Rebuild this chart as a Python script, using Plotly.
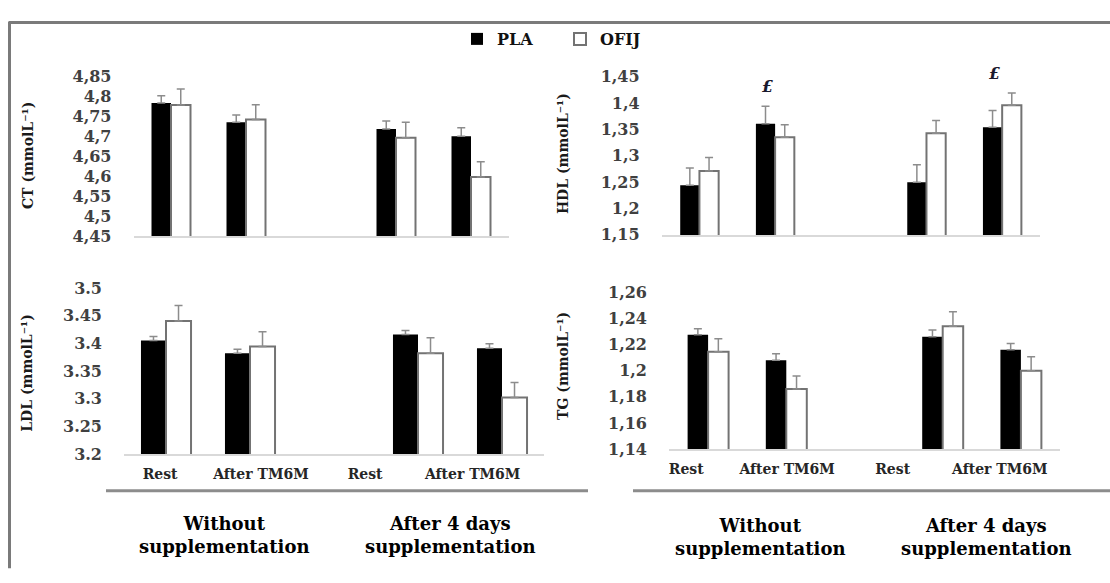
import plotly.graph_objects as go

# ---------------- data ----------------
series = ["PLA", "OFIJ"]
moments = ["Rest", "After TM6M"]
groups = ["Without<br>supplementation", "After 4 days<br>supplementation"]

ct_pla = [4.784, 4.736, 4.719, 4.701]
ct_pla_err = [0.018, 0.018, 0.020, 0.021]
ct_ofij = [4.779, 4.743, 4.697, 4.599]
ct_ofij_err = [0.040, 0.037, 0.039, 0.038]

hdl_pla = [1.244, 1.361, 1.250, 1.354]
hdl_pla_err = [0.033, 0.033, 0.033, 0.032]
hdl_ofij = [1.271, 1.335, 1.343, 1.396]
hdl_ofij_err = [0.026, 0.024, 0.024, 0.023]

ldl_pla = [3.405, 3.382, 3.416, 3.391]
ldl_pla_err = [0.007, 0.007, 0.007, 0.008]
ldl_ofij = [3.440, 3.394, 3.382, 3.302]
ldl_ofij_err = [0.028, 0.027, 0.028, 0.027]

tg_pla = [1.2275, 1.208, 1.226, 1.216]
tg_pla_err = [0.0045, 0.005, 0.005, 0.0047]
tg_ofij = [1.2145, 1.186, 1.234, 1.200]
tg_ofij_err = [0.0098, 0.010, 0.011, 0.0107]

ct_ticks = ["4,45", "4,5", "4,55", "4,6", "4,65", "4,7", "4,75", "4,8", "4,85"]
hdl_ticks = ["1,15", "1,2", "1,25", "1,3", "1,35", "1,4", "1,45"]
ldl_ticks = ["3.2", "3.25", "3.3", "3.35", "3.4", "3.45", "3.5"]
tg_ticks = ["1,14", "1,16", "1,18", "1,2", "1,22", "1,24", "1,26"]

significance_mark = "£"
hdl_marked = [1, 3]  # index of bar pair carrying the mark

# ---------------- layout helpers ----------------
W, H = 1110, 583
FONT = "DejaVu Serif"


def fx(p):
    return p / W


def fy(p):
    return 1 - p / H


def num(s):
    return float(s.replace(",", "."))


slots = [gi * 3 + mi for gi in range(len(groups)) for mi in range(len(moments))]

panels = [
    dict(name="CT", pla=ct_pla, pe=ct_pla_err, of=ct_ofij, oe=ct_ofij_err,
         ticks=ct_ticks, xd=(133.5, 508.5), yd=(70, 235), bw=0.26,
         labels=None, title=(28, 152)),
    dict(name="HDL", pla=hdl_pla, pe=hdl_pla_err, of=hdl_ofij, oe=hdl_ofij_err,
         ticks=hdl_ticks, xd=(661.6, 1040), yd=(70, 233.5), bw=0.254,
         labels=None, title=(563, 150)),
    dict(name="LDL", pla=ldl_pla, pe=ldl_pla_err, of=ldl_ofij, oe=ldl_ofij_err,
         ticks=ldl_ticks, xd=(124, 544), yd=(288.3, 460), bw=0.298,
         labels=[-0.07, 1.13, 2.37, 3.65], title=(27, 376)),
    dict(name="TG", pla=tg_pla, pe=tg_pla_err, of=tg_ofij, oe=tg_ofij_err,
         ticks=tg_ticks, xd=(669, 1060), yd=(292.7, 455), bw=0.262,
         labels=[-0.28, 1.01, 2.36, 3.73], title=(563, 369)),
]

fig = go.Figure()
layout_axes = {}
annotations = []

for i, p in enumerate(panels):
    k = "" if i == 0 else str(i + 1)
    xa, ya = "x" + k, "y" + k
    err_style = dict(type="data", symmetric=False, color="#8c8c8c",
                     thickness=1.5, width=4)
    fig.add_trace(go.Bar(
        x=slots, y=p["pla"], name=series[0], xaxis=xa, yaxis=ya,
        width=p["bw"], offset=-p["bw"],
        marker=dict(color="black", line=dict(color="black", width=0)),
        error_y=dict(array=p["pe"], arrayminus=[0] * len(p["pe"]), **err_style),
        showlegend=(i == 0), legendgroup=series[0],
    ))
    fig.add_trace(go.Bar(
        x=slots, y=p["of"], name=series[1], xaxis=xa, yaxis=ya,
        width=p["bw"], offset=0,
        marker=dict(color="white", line=dict(color="#737373", width=2)),
        error_y=dict(array=p["oe"], arrayminus=[0] * len(p["oe"]), **err_style),
        showlegend=(i == 0), legendgroup=series[1],
    ))
    tv = [num(t) for t in p["ticks"]]
    xaxis = dict(
        domain=[fx(p["xd"][0]), fx(p["xd"][1])], anchor=ya,
        range=[-0.5, 4.5], showgrid=False, zeroline=False,
        showline=True, linecolor="#d9d9d9", linewidth=2, ticks="",
        fixedrange=True,
    )
    if p["labels"] is None:
        xaxis["showticklabels"] = False
    else:
        xaxis.update(tickmode="array", tickvals=p["labels"],
                     ticktext=moments * len(groups),
                     tickfont=dict(family=FONT, size=14, color="#262626",
                                   weight="bold"),
                     ticklabelstandoff=6)
    yaxis = dict(
        domain=[fy(p["yd"][1]), fy(p["yd"][0])], anchor=xa,
        range=[tv[0], tv[-1]], tickmode="array", tickvals=tv,
        ticktext=p["ticks"], showgrid=False, zeroline=False, showline=False,
        ticks="", ticklabelstandoff=21,
        tickfont=dict(family=FONT, size=16, color="#404040", weight="bold"),
        fixedrange=True,
    )
    layout_axes["xaxis" + k] = xaxis
    layout_axes["yaxis" + k] = yaxis
    annotations.append(dict(
        text=p["name"] + " (mmolL⁻¹)", xref="paper", yref="paper",
        x=fx(p["title"][0]), y=fy(p["title"][1]), textangle=-90,
        showarrow=False, xanchor="center", yanchor="middle",
        font=dict(family=FONT, size=14, color="#1a1a1a", weight="bold"),
    ))

# significance marks on HDL panel
hdl = panels[1]
for j in hdl_marked:
    top = max(hdl["pla"][j] + hdl["pe"][j], hdl["of"][j] + hdl["oe"][j])
    annotations.append(dict(
        text="<b><i>" + significance_mark + "</i></b>", xref="x2", yref="y2",
        x=slots[j] - 0.1, y=top, yanchor="middle", yshift=20,
        showarrow=False, font=dict(family=FONT, size=16, color="#1a1a2e"),
    ))

# group labels below bottom panels
group_pos = [[(224, 544), (450, 544)], [(760, 546), (986, 546)]]
for side in group_pos:
    for g, (gx, gy) in zip(groups, side):
        annotations.append(dict(
            text=g, xref="paper", yref="paper", x=fx(gx), y=fy(gy),
            showarrow=False, xanchor="center", yanchor="middle",
            font=dict(family=FONT, size=18, color="black", weight="bold"),
        ))

shapes = [
    # separator lines
    dict(type="line", xref="paper", yref="paper", x0=fx(106), x1=fx(588),
         y0=fy(498), y1=fy(498), line=dict(color="#8c8c8c", width=3)),
    dict(type="line", xref="paper", yref="paper", x0=fx(633), x1=fx(1110),
         y0=fy(498), y1=fy(498), line=dict(color="#8c8c8c", width=3)),
    # frame
    dict(type="line", xref="paper", yref="paper", x0=fx(9), x1=fx(1112),
         y0=fy(14), y1=fy(14), line=dict(color="#7a7a7a", width=3)),
    dict(type="line", xref="paper", yref="paper", x0=fx(9.5), x1=fx(9.5),
         y0=fy(13), y1=fy(578), line=dict(color="#7a7a7a", width=3)),
]

fig.update_layout(
    width=W, height=H, margin=dict(l=0, r=0, t=0, b=0),
    paper_bgcolor="white", plot_bgcolor="white",
    barmode="overlay",
    legend=dict(orientation="h", x=fx(457), y=fy(31), xanchor="left",
                yanchor="middle", entrywidth=58, entrywidthmode="pixels",
                font=dict(family=FONT, size=16, color="#111", weight="bold"),
                bgcolor="rgba(0,0,0,0)", itemclick=False,
                itemdoubleclick=False),
    annotations=annotations, shapes=shapes,
    **layout_axes,
)

fig.write_html("out.html")
